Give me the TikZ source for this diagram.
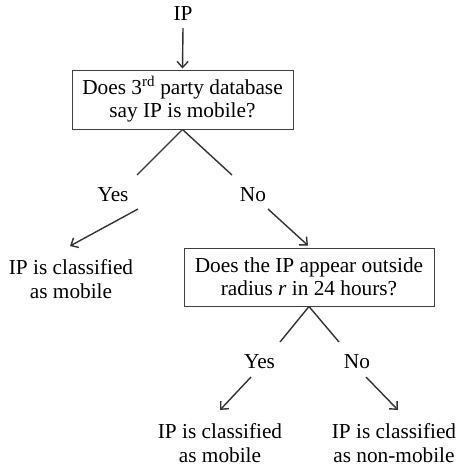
\documentclass[tikz,border=0pt]{standalone}
\usepackage{fontspec}
\setmainfont{Liberation Serif}
\usetikzlibrary{arrows.meta}
\begin{document}
\begin{tikzpicture}[x=1pt,y=-1pt,
  font=\fontsize{21.3}{23.5}\selectfont,
  qbox/.style={draw=black!75, line width=1pt, align=center, inner sep=0pt},
  answer/.style={inner sep=0pt},
  result/.style={align=center, inner sep=0pt},
  branch/.style={draw=black!80, line width=1.4pt},
  arr/.style={branch, -{Straight Barb[length=6pt,width=11pt]}}]
\useasboundingbox (0,0) rectangle (461,472);
% question boxes
\node (ip) at (183,14) {IP};
\node[qbox, minimum width=221pt, minimum height=59pt] (q1) at (182.5,99.5)
    {Does 3\textsuperscript{rd} party database\\say IP is mobile?};
\node[qbox, minimum width=250pt, minimum height=58pt] (q2) at (309,277)
    {Does the IP appear outside\\radius \textit{r} in 24 hours?};
% answers
\node[answer] (yes1) at (113,195) {Yes};
\node[answer] (no1) at (253,195) {No};
\node[answer] (yes2) at (259.5,362) {Yes};
\node[answer] (no2) at (357,362) {No};
% outcomes
\node[result] (res1) at (71,279) {IP is classified\\as mobile};
\node[result] (res2) at (220,443) {IP is classified\\as mobile};
\node[result] (res3) at (394,443) {IP is classified\\as non-mobile};
% connectors
\draw[arr] ([shift={(0,14)}]ip.center) -- ([shift={(0,-1)}]q1.north);
\draw[branch] (q1.south) -- ([shift={(24,-20)}]yes1.center);
\draw[branch] (q1.south) -- ([shift={(-21,-20)}]no1.center);
\draw[arr] ([shift={(25,14)}]yes1.center) -- ([shift={(-1,-33)}]res1.center);
\draw[arr] ([shift={(15,14)}]no1.center) -- ([shift={(-1,-2)}]q2.north);
\draw[branch] (q2.south) -- ([shift={(20.5,-20)}]yes2.center);
\draw[branch] (q2.south) -- ([shift={(-18,-20)}]no2.center);
\draw[arr] ([shift={(-8.5,15)}]yes2.center) -- ([shift={(0,-33)}]res2.center);
\draw[arr] ([shift={(9,15)}]no2.center) -- ([shift={(4,-33)}]res3.center);
\end{tikzpicture}
\end{document}
